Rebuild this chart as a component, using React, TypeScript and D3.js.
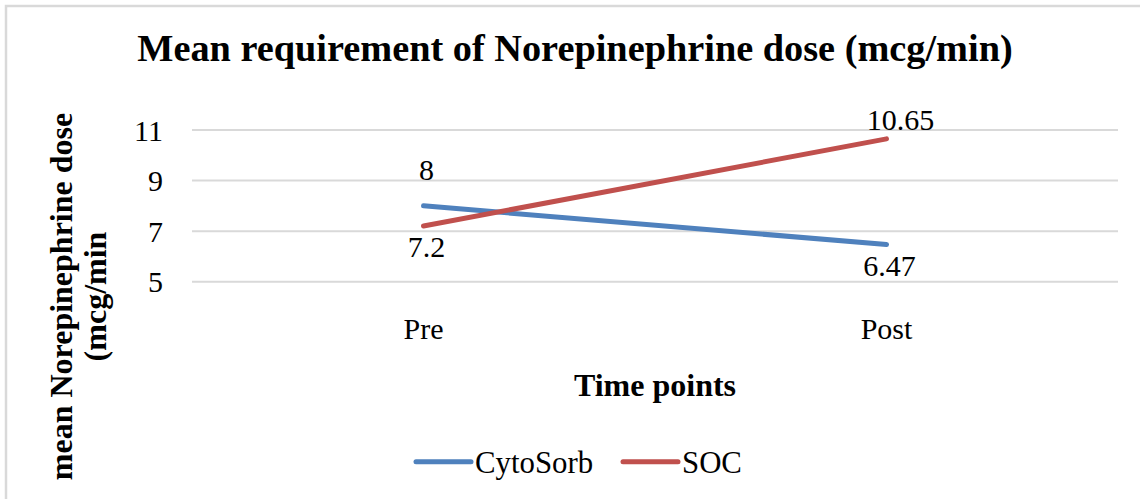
import React from "react";
import * as d3 from "d3";

const categories = ["Pre", "Post"];
const cytoSorb = [8, 6.47];
const soc = [7.2, 10.65];
const seriesNames = ["CytoSorb", "SOC"];
const yTicks = [5, 7, 9, 11];

const W = 1140;
const H = 499;
const FONT = "'Liberation Serif', 'Times New Roman', serif";

export default function App() {
  const plotLeft = 192;
  const plotRight = 1118;
  const plotTop = 130;
  const plotBottom = 281.7;

  const x = d3.scalePoint<string>().domain(categories).range([plotLeft, plotRight]).padding(0.5);
  const y = d3.scaleLinear().domain([5, 11]).range([plotBottom, plotTop]);

  const series = [
    { name: seriesNames[0], values: cytoSorb, color: "#4F81BD" },
    { name: seriesNames[1], values: soc, color: "#C0504D" },
  ];

  const line = d3
    .line<number>()
    .x((_, i) => x(categories[i]) as number)
    .y((d) => y(d));

  return (
    <div style={{ position: "absolute", left: 0, top: 0 }}>
      <svg width={W} height={H} style={{ display: "block" }}>
        <rect x={0} y={0} width={W} height={H} fill="#fff" />
        <path d={`M6,${H + 5} L6,6 L${W + 5},6`} fill="none" stroke="#D9D9D9" strokeWidth={2.5} />
        <text
          x={575}
          y={61}
          textAnchor="middle"
          fontFamily={FONT}
          fontWeight="bold"
          fontSize={38.3}
          fill="#000"
        >
          Mean requirement of Norepinephrine dose (mcg/min)
        </text>

        {yTicks.map((t) => (
          <g key={t}>
            <line x1={plotLeft} x2={plotRight} y1={y(t)} y2={y(t)} stroke="#D9D9D9" strokeWidth={2} />
            <text x={163} y={y(t) + 10.5} textAnchor="end" fontFamily={FONT} fontSize={30} fill="#000">
              {t}
            </text>
          </g>
        ))}

        {categories.map((c) => (
          <text key={c} x={x(c)} y={339} textAnchor="middle" fontFamily={FONT} fontSize={30} fill="#000">
            {c}
          </text>
        ))}

        {series.map((s) => (
          <path
            key={s.name}
            d={line(s.values) || ""}
            fill="none"
            stroke={s.color}
            strokeWidth={5}
            strokeLinecap="round"
          />
        ))}

        {series.map((s, si) =>
          s.values.map((v, i) => {
            const other = series[1 - si].values[i];
            const above = v > other;
            const py = y(v);
            const by = above ? Math.max(py - 26, plotTop) : py + 31;
            return (
              <text
                key={s.name + i}
                x={(x(categories[i]) as number) + (above && py - 26 < plotTop ? 14 : 3)}
                y={by}
                textAnchor="middle"
                fontFamily={FONT}
                fontSize={30}
                fill="#000"
              >
                {v}
              </text>
            );
          })
        )}

        <text
          x={(plotLeft + plotRight) / 2}
          y={396}
          textAnchor="middle"
          fontFamily={FONT}
          fontWeight="bold"
          fontSize={32}
          fill="#000"
        >
          Time points
        </text>

        <g transform="translate(72,296.5) rotate(-90)">
          <text x={0} y={0} textAnchor="middle" fontFamily={FONT} fontWeight="bold" fontSize={32} fill="#000">
            mean Norepinephrine dose
          </text>
          <text x={0} y={34} textAnchor="middle" fontFamily={FONT} fontWeight="bold" fontSize={32} fill="#000">
            (mcg/min
          </text>
        </g>

        {series.map((s, i) => {
          const lx = i === 0 ? 416 : 623;
          return (
            <g key={s.name}>
              <line x1={lx} x2={lx + 55} y1={461.7} y2={461.7} stroke={s.color} strokeWidth={5} strokeLinecap="round" />
              <text x={lx + 59} y={473} fontFamily={FONT} fontSize={30.8} fill="#000">
                {s.name}
              </text>
            </g>
          );
        })}
      </svg>
    </div>
  );
}
